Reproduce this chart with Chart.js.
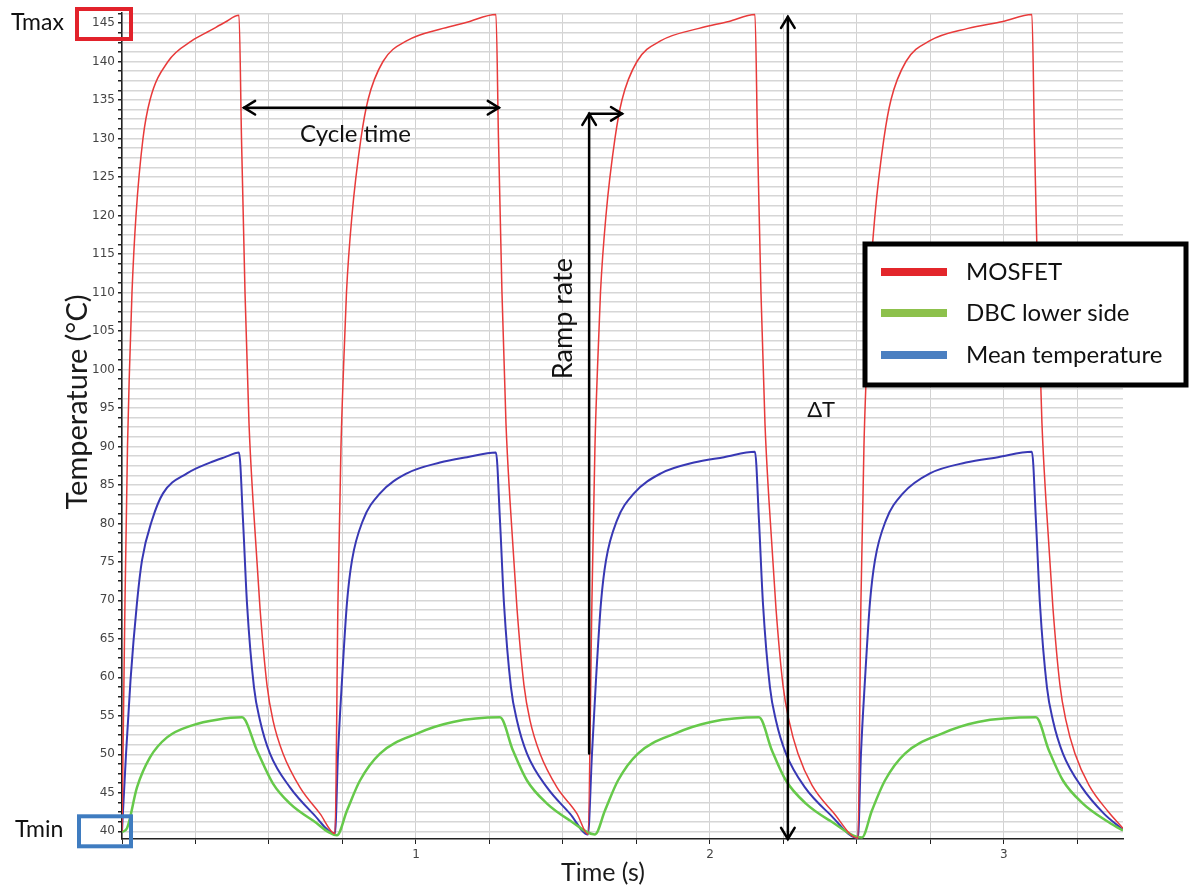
<!DOCTYPE html>
<html>
<head>
<meta charset="utf-8">
<script src="https://cdn.jsdelivr.net/npm/chart.js@4.4.1/dist/chart.umd.min.js"></script>
<style>
  html, body { margin: 0; padding: 0; background: #fff; }
  #wrap { width: 1189px; height: 888px; }
</style>
</head>
<body>
<div id="wrap"><canvas id="c" width="1189" height="888"></canvas></div>
<script>
// ---- data (time in s, temperature in °C) ----
const mosfetTime = [
  0, 0.0102, 0.0187, 0.0255, 0.0340, 0.0476, 0.0714, 0.0952, 0.1565, 0.2381, 0.2993, 0.3503, 0.3980,
  0.4065, 0.4184, 0.4320, 0.4456, 0.4694, 0.4932, 0.5136, 0.5476, 0.6054, 0.6735, 0.7245,
  0.7347, 0.7449, 0.7534, 0.7636, 0.7823, 0.8129, 0.8367, 0.8878, 0.9694, 1.0918, 1.1735, 1.2721,
  1.2806, 1.2925, 1.3061, 1.3197, 1.3435, 1.3673, 1.3878, 1.4218, 1.4796, 1.5476, 1.5850,
  1.5986, 1.6088, 1.6173, 1.6276, 1.6463, 1.6769, 1.7007, 1.7517, 1.8333, 1.9626, 2.0646, 2.1531,
  2.1616, 2.1735, 2.1871, 2.2007, 2.2245, 2.2483, 2.2687, 2.2993, 2.3469, 2.4184, 2.5034,
  2.5136, 2.5238, 2.5323, 2.5425, 2.5612, 2.5918, 2.6156, 2.6667, 2.7483, 2.8776, 2.9966, 3.0952,
  3.1037, 3.1156, 3.1293, 3.1429, 3.1667, 3.1905, 3.2109, 3.2415, 3.2891, 3.3537, 3.4048
];
const mosfetTemp = [
  40, 70, 90, 100, 110, 120, 130, 135, 140, 142.7, 144, 145.1, 146,
  130, 110, 93, 83, 69, 59, 54.4, 50.1, 45.7, 42.3, 39.7,
  70, 90, 100, 110, 120, 130, 135, 140, 142.7, 144.3, 145.1, 146.1,
  130, 110, 93, 83, 69, 59, 54.4, 50.1, 45.7, 42.3, 39.6,
  70, 90, 100, 110, 120, 130, 135, 140, 142.7, 144.3, 145.2, 146.1,
  130, 110, 93, 83, 69, 59, 54.4, 50.1, 46.0, 42.5, 39.1,
  70, 90, 100, 110, 120, 130, 135, 140, 142.7, 144.3, 145.2, 146.1,
  130, 110, 93, 83, 69, 59, 54.4, 50.1, 46.0, 42.6, 40.4
];

const dbcTime = [
  0, 0.0170, 0.0510, 0.0952, 0.1531, 0.2415, 0.3231, 0.4082, 0.4592, 0.5136, 0.5714, 0.6497, 0.7313,
  0.7653, 0.8095, 0.8776, 1.0034, 1.1259, 1.2857, 1.3299, 1.3776, 1.4456, 1.5238, 1.6088,
  1.6429, 1.6871, 1.7551, 1.8810, 2.0034, 2.1667, 2.2109, 2.2585, 2.3265, 2.4116, 2.5170,
  2.5510, 2.5952, 2.6633, 2.7891, 2.9116, 3.1088, 3.1531, 3.2007, 3.2687, 3.3469, 3.4048
];
const dbcTemp = [
  39.9, 40.4, 45.7, 49.6, 52.2, 53.8, 54.5, 54.8, 50.5, 46.2, 43.6, 41.4, 39.5,
  42.7, 46.6, 50.1, 52.7, 54.2, 54.8, 50.5, 46.6, 43.6, 41.4, 39.6,
  42.7, 46.6, 50.1, 52.7, 54.2, 54.8, 50.5, 46.6, 43.6, 41.3, 39.2,
  42.7, 46.6, 50.1, 52.7, 54.2, 54.8, 50.5, 46.6, 43.6, 41.4, 40.1
];

const meanTime = [
  0, 0.0136, 0.0289, 0.0510, 0.0680, 0.1020, 0.1395, 0.2211, 0.2993, 0.3503, 0.3980,
  0.4116, 0.4252, 0.4490, 0.4694, 0.5034, 0.5714, 0.6497, 0.7245,
  0.7347, 0.7483, 0.7653, 0.7823, 0.8197, 0.8776, 0.9694, 1.0816, 1.1735, 1.2721,
  1.2857, 1.2993, 1.3231, 1.3435, 1.3776, 1.4456, 1.5238, 1.5850,
  1.5986, 1.6122, 1.6293, 1.6463, 1.6837, 1.7415, 1.8333, 1.9456, 2.0476, 2.1531,
  2.1667, 2.1803, 2.2041, 2.2245, 2.2585, 2.3231, 2.4082, 2.5034,
  2.5136, 2.5272, 2.5442, 2.5612, 2.5986, 2.6565, 2.7483, 2.8707, 2.9796, 3.0952,
  3.1088, 3.1224, 3.1463, 3.1667, 3.2007, 3.2653, 3.3401, 3.4048
];
const meanTemp = [
  40, 50, 59.6, 69.7, 75.2, 80.4, 83.9, 86.5, 87.9, 88.6, 89.2,
  80.4, 69.6, 58.7, 54.4, 50.1, 45.7, 42.3, 39.7,
  50, 59.6, 69.7, 75.2, 80.4, 83.9, 86.5, 87.9, 88.6, 89.2,
  80.4, 69.6, 58.7, 54.4, 50.1, 45.7, 42.3, 39.6,
  50, 59.6, 69.7, 75.2, 80.4, 83.9, 86.5, 87.9, 88.6, 89.3,
  80.4, 69.6, 58.7, 54.4, 50.1, 45.7, 42.2, 39.1,
  50, 59.6, 69.7, 75.2, 80.4, 83.9, 86.5, 87.9, 88.6, 89.3,
  80.4, 69.6, 58.7, 54.4, 50.1, 45.7, 42.3, 40.2
];

const seriesLabels = ['MOSFET', 'DBC lower side', 'Mean temperature'];
const xRange = [0, 3.405];
const yRange = [39, 146.3];

const pts = (ts, vs) => ts.map((t, i) => ({ x: t, y: vs[i] }));

// ---- annotations + boxed legend ----
const FONT = 'Lato, "Open Sans", sans-serif';

function arrowHead(ctx, x, y, ang, size) {
  ctx.beginPath();
  ctx.moveTo(x - size * Math.cos(ang - 0.55), y - size * Math.sin(ang - 0.55));
  ctx.lineTo(x, y);
  ctx.lineTo(x - size * Math.cos(ang + 0.55), y - size * Math.sin(ang + 0.55));
  ctx.stroke();
}

const annotate = {
  id: 'annotate',
  afterDatasetsDraw(chart) {
    const { ctx, scales: { x, y } } = chart;
    const px = v => x.getPixelForValue(v), py = v => y.getPixelForValue(v);
    ctx.save();
    ctx.strokeStyle = '#000';
    ctx.fillStyle = '#111';
    ctx.lineWidth = 2.5;
    ctx.lineCap = 'round';

    // cycle time
    const cy = py(134), c0 = px(0.415), c1 = px(1.282);
    ctx.beginPath(); ctx.moveTo(c0, cy); ctx.lineTo(c1, cy); ctx.stroke();
    arrowHead(ctx, c0, cy, Math.PI, 13);
    arrowHead(ctx, c1, cy, 0, 13);
    ctx.font = '24px ' + FONT;
    ctx.textAlign = 'center'; ctx.textBaseline = 'middle';
    ctx.fillText('Cycle time', px(0.794), py(130.6));

    // ramp rate
    const rx = px(1.589), rTop = py(133.2), rBot = py(50.1), rEnd = px(1.701);
    ctx.beginPath(); ctx.moveTo(rx, rBot); ctx.lineTo(rx, rTop); ctx.lineTo(rEnd, rTop); ctx.stroke();
    arrowHead(ctx, rx, rTop, -Math.PI / 2, 13);
    arrowHead(ctx, rEnd, rTop, 0, 13);
    ctx.save();
    ctx.translate(px(1.50), py(106.6));
    ctx.rotate(-Math.PI / 2);
    ctx.font = '27px ' + FONT;
    ctx.fillText('Ramp rate', 0, 0);
    ctx.restore();

    // delta T
    const dx = px(2.265), d0 = py(145.8), d1 = py(39);
    ctx.beginPath(); ctx.moveTo(dx, d0); ctx.lineTo(dx, d1); ctx.stroke();
    arrowHead(ctx, dx, d0, -Math.PI / 2, 13);
    arrowHead(ctx, dx, d1, Math.PI / 2, 13);
    ctx.font = '22px ' + FONT;
    ctx.fillText('\u0394T', px(2.378), py(94.7));
    ctx.restore();
  },
  afterDraw(chart) {
    const { ctx, scales: { y } } = chart;
    const py = v => y.getPixelForValue(v);
    ctx.save();
    // Tmax / Tmin
    ctx.font = '23px ' + FONT;
    ctx.fillStyle = '#111';
    ctx.textAlign = 'left'; ctx.textBaseline = 'middle';
    ctx.fillText('Tmax', 11, py(145));
    ctx.fillText('Tmin', 15, py(40) - 2);
    ctx.lineWidth = 4;
    ctx.strokeStyle = '#e2222b';
    ctx.strokeRect(77, py(145) - 14, 54, 30);
    ctx.strokeStyle = '#3f7cc0';
    ctx.strokeRect(79, py(40) - 15, 52, 30);

    // axis titles
    ctx.fillStyle = '#1a1a1a';
    ctx.font = '25px ' + FONT;
    ctx.textAlign = 'center';
    ctx.fillText('Time (s)', 603, 873);
    ctx.save();
    ctx.translate(78, 402);
    ctx.rotate(-Math.PI / 2);
    ctx.font = '29px ' + FONT;
    ctx.fillText('Temperature (\u00B0C)', 0, 0);
    ctx.restore();

    // legend box
    const L = 865, T = 244, R = 1186, B = 385;
    ctx.fillStyle = '#fff';
    ctx.fillRect(L, T, R - L, B - T);
    ctx.lineWidth = 5;
    ctx.strokeStyle = '#000';
    ctx.strokeRect(L, T, R - L, B - T);
    const swatch = ['#e3262b', '#8dc14c', '#4a7fc1'];
    const rows = [272, 313, 355];
    ctx.font = '24px ' + FONT;
    ctx.textAlign = 'left';
    chart.data.datasets.forEach((ds, i) => {
      ctx.fillStyle = swatch[i];
      ctx.fillRect(881, rows[i] - 4, 66, 8);
      ctx.fillStyle = '#111';
      ctx.fillText(ds.label, 966, rows[i]);
    });
    ctx.restore();
  }
};

new Chart(document.getElementById('c'), {
  type: 'line',
  data: {
    datasets: [
      { label: seriesLabels[0], data: pts(mosfetTime, mosfetTemp), borderColor: '#e83a3a', borderWidth: 1.5 },
      { label: seriesLabels[1], data: pts(dbcTime, dbcTemp), borderColor: '#66c94a', borderWidth: 2.5 },
      { label: seriesLabels[2], data: pts(meanTime, meanTemp), borderColor: '#3838b4', borderWidth: 2 },
    ].map(d => ({ ...d, pointRadius: 0, fill: false, cubicInterpolationMode: 'monotone' })),
  },
  options: {
    responsive: false,
    animation: false,
    devicePixelRatio: 1,
    layout: { padding: { top: 13, right: 66, left: 0, bottom: 0 } },
    plugins: { legend: { display: false }, tooltip: { enabled: false } },
    scales: {
      x: {
        type: 'linear',
        min: xRange[0], max: xRange[1],
        afterFit: s => { s.height = 49; },
        grid: { color: '#d2d2d2', lineWidth: 1, tickLength: 5, tickColor: '#222' },
        border: { color: '#222', width: 1.5 },
        ticks: {
          stepSize: 0.25, includeBounds: false, autoSkip: false, maxRotation: 0, padding: 4,
          color: '#444', font: { family: '"DejaVu Sans"', size: 12 },
          callback: v => (Number.isInteger(v) && v > 0 ? v : ''),
        },
      },
      y: {
        min: yRange[0], max: yRange[1],
        afterFit: s => { s.width = 122; },
        grid: { color: '#d6d6d6', lineWidth: 1.5, tickLength: 4, tickColor: '#222' },
        border: { color: '#222', width: 1.5 },
        ticks: {
          stepSize: 1.25, includeBounds: false, autoSkip: false, padding: 3,
          color: '#444', font: { family: '"DejaVu Sans"', size: 12 },
          callback: v => (v % 5 === 0 ? v : ''),
        },
      },
    },
  },
  plugins: [annotate],
});
</script>
</body>
</html>
